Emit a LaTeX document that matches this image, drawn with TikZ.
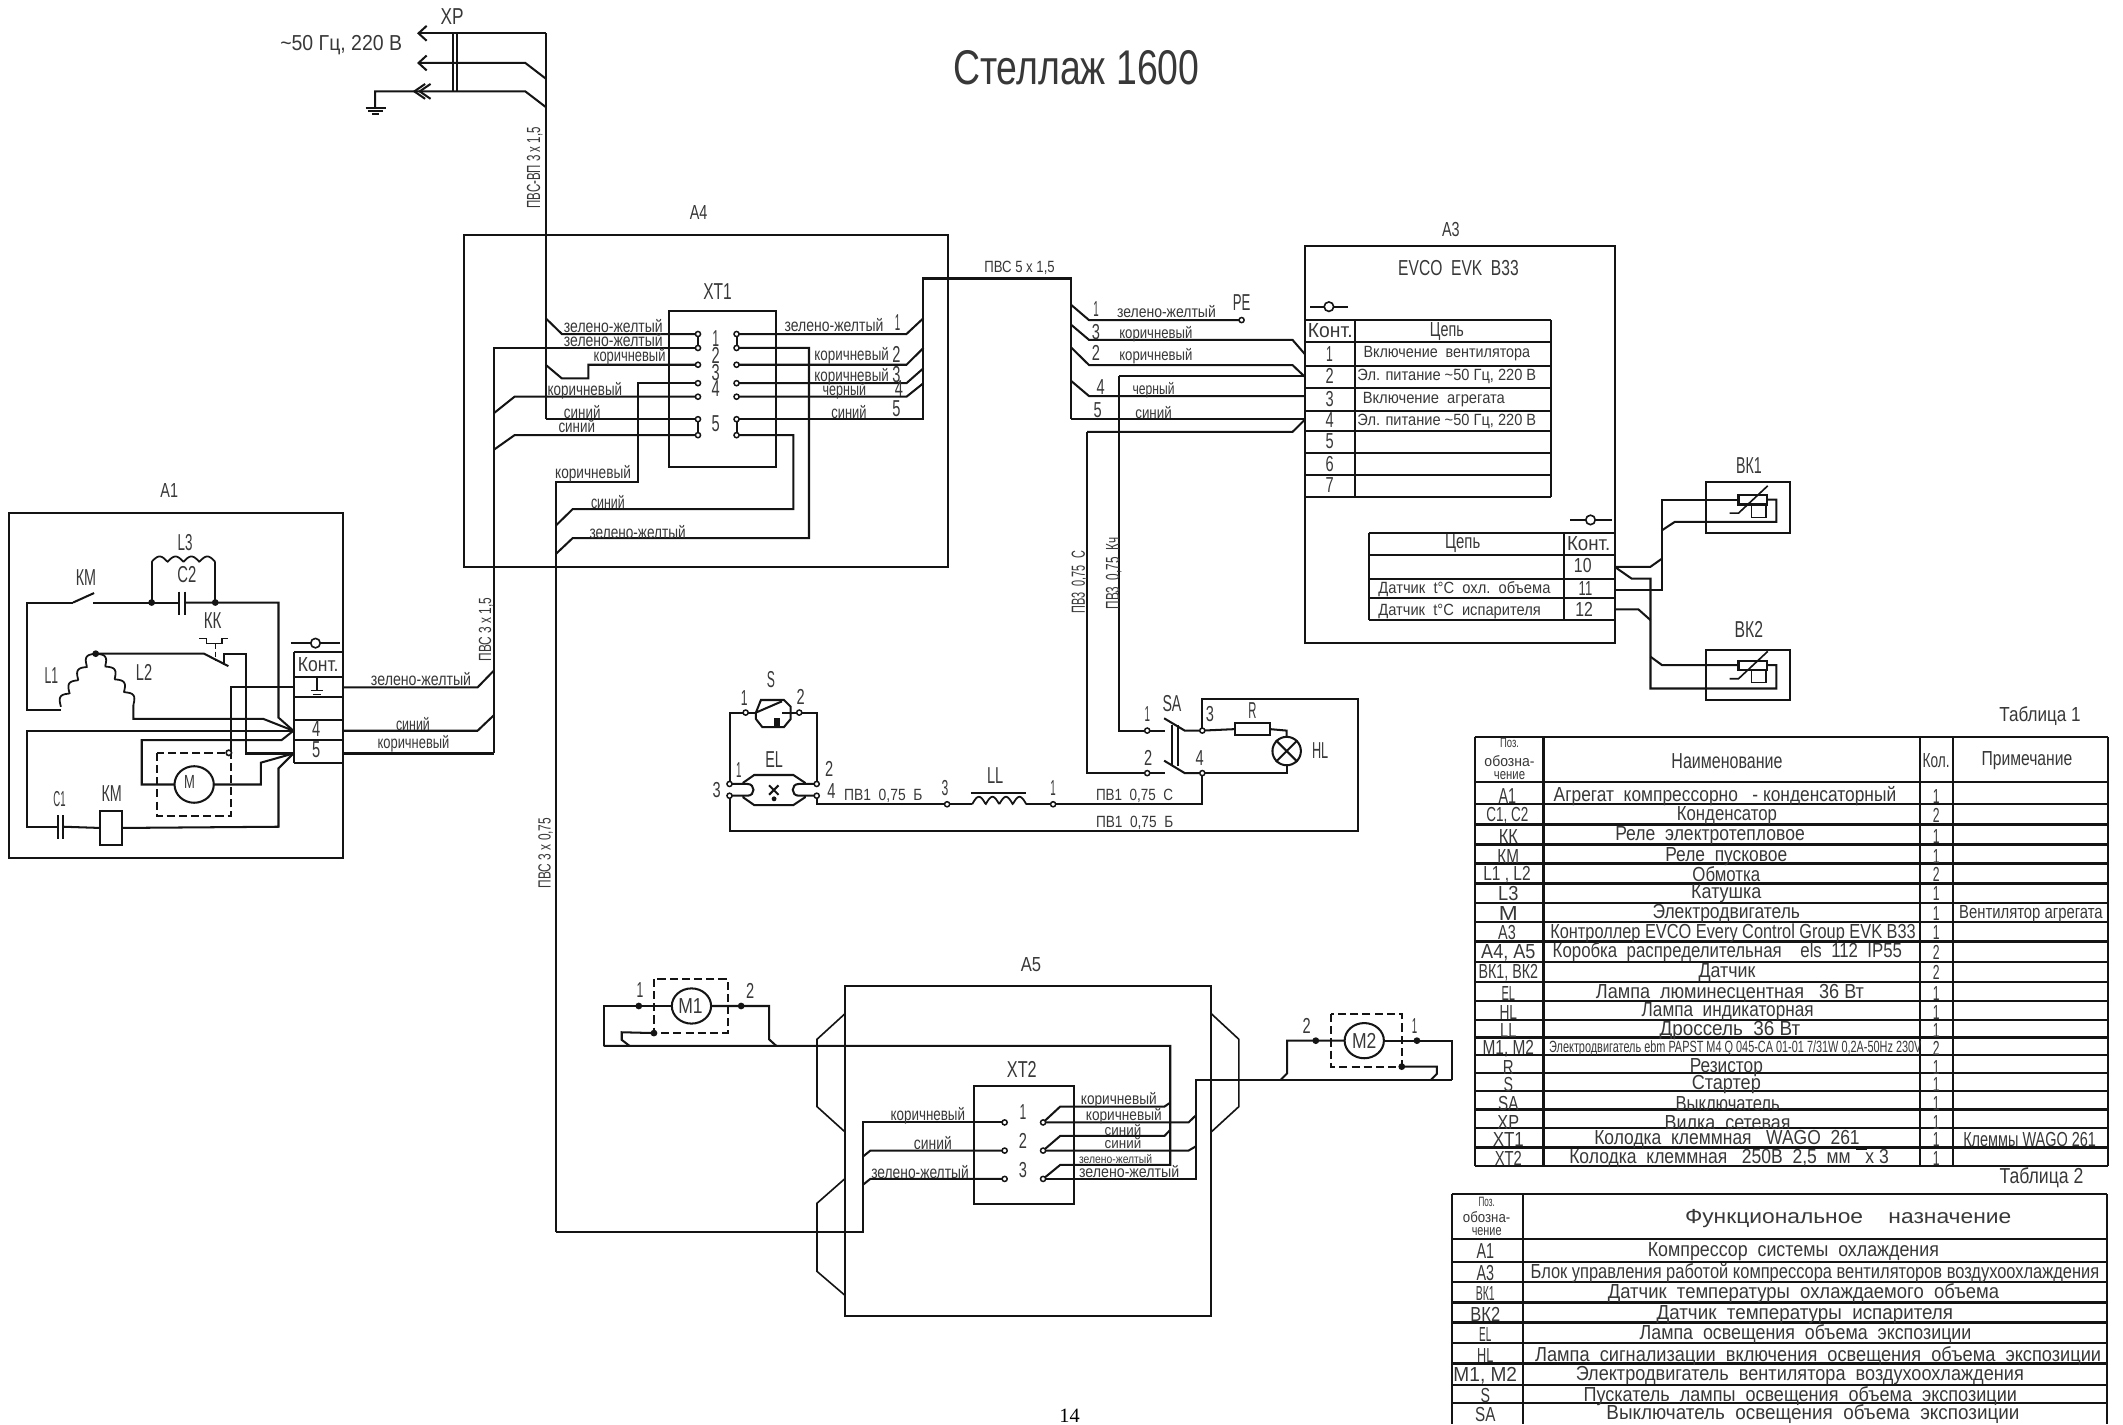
\documentclass[tikz,border=0pt]{standalone}
\usepackage{fontspec}
\setmainfont{Liberation Sans}
\newfontfamily\serf{Liberation Serif}
\usetikzlibrary{shapes.geometric,arrows.meta}
\definecolor{ink}{gray}{.08}
\definecolor{txt}{gray}{.22}
\newcounter{lbn}
\newsavebox\fitbox
\newcommand\fittext[2]{\sbox\fitbox{#2}\edef\fitw{\the\wd\fitbox}\pgfmathsetmacro\fitr{#1/\fitw}\scalebox{\fitr}[1]{\usebox\fitbox}}
\newcommand\lb[6][]{\stepcounter{lbn}\node[lab,#1] (lb\arabic{lbn}) at (#2,#3) {\fontsize{#5}{#5}\selectfont\fittext{#4}{#6}};}
\newcommand\bx[6][]{\node[boxn,#1,minimum width={(#5-#3)*1pt},minimum height={(#6-#4)*1pt}] (#2) at ({(#3+#5)/2},{(#4+#6)/2}) {};}
\newcommand\coilp[7]{\draw[wire,line width=1.3pt] plot[domain=0:1,samples=72] ({#1+\x*(#3-#1)+#6*abs(sin(#5*180*\x))},{#2+\x*(#4-#2)+#7*abs(sin(#5*180*\x))});}
\tikzset{
 lab/.style={inner sep=0pt,outer sep=0pt,text=txt,anchor=center},
 wire/.style={draw=ink,line width=1.5pt,line join=miter},
 thin wire/.style={draw=ink,line width=1.1pt},
 boxn/.style={draw=ink,line width=1.5pt,inner sep=0pt,outer sep=0pt,rectangle},
 tbl/.style={draw=ink,line width=1.6pt},
 tm/.style={circle,draw=ink,fill=white,line width=1.1pt,inner sep=0pt,minimum size=3.8pt},
 jd/.style={circle,fill=ink,inner sep=0pt,minimum size=5pt},
 mot/.style={ellipse,draw=ink,line width=1.5pt,fill=white,inner sep=0pt,outer sep=0pt},
 dashbox/.style={draw=ink,line width=1.3pt,dash pattern=on 6pt off 3pt},
 sock/.style={circle,draw=ink,fill=white,line width=1.2pt,inner sep=0pt,minimum size=7pt},
 barb/.style={-{Straight Barb[length=6pt,width=11pt,line width=1.5pt]}}
}
\begin{document}
\begin{tikzpicture}[x=1pt,y=-1pt]
\useasboundingbox (0,0) rectangle (1568,1052);
\fill[white] (0,0) rectangle (1568,1052);
% ---------- title
\lb{795}{50}{182}{36}{Стеллаж 1600}
\node[inner sep=0pt] (pagenum) at (790,1046) {\serf\fontsize{15}{15}\selectfont 14};
% ---------- boxes
\bx{A1}{7}{378.6}{253}{634}
\bx{A4}{343}{173.7}{700.5}{418.5}
\bx{XT1}{494}{230}{573}{344.6}
\bx{A3}{963.7}{181.7}{1192.5}{474.8}
\bx{A5}{624.4}{728}{894.3}{971.7}
\bx{XT2}{719.7}{802}{793.2}{889}
\bx{BK1}{1260}{355.8}{1322}{394}
\bx{BK2}{1260}{480}{1322}{517}
% ---------- XP
\coordinate (xpa) at (308,24.6);
\coordinate (xpb) at (308,46.5);
\coordinate (gnd) at (277,79);
\draw[wire,barb] (403,24.6) -- (xpa);
\draw[wire,barb] (403,58) -- (388,46.5) -- (xpb);
\draw[wire] (403,79) -- (388,67.5) -- (277,67.5) -- (gnd);
\draw[wire] (314,62) -- (306,67.5) -- (314,73) (318,62) -- (310,67.5) -- (318,73);
\draw[wire] (270,79.5) -- (285,79.5);
\draw[wire] (272,82) -- (283,82);
\draw[wire] (275,84.5) -- (280,84.5);
\draw[wire,line width=1.1pt] (334.5,24.6) -- (334.5,67.5) (337.5,24.6) -- (337.5,67.5);
\draw[wire] (403,24.6) -- (403,309.6);
\lb{334}{12}{17}{17}{ХР}
\lb{252}{33}{90}{16}{\textasciitilde50 Гц, 220 В}
\lb[rotate=90]{395}{124}{60}{14}{ПВС-ВП 3 х 1,5}
\lb{516}{157}{13}{15}{А4}
\lb{530}{215}{21}{17}{ХТ1}
% ---------- XT1 terminals
\foreach \n/\y in {1/246.7,2/257,3/269.4,4/283,5/293,6/309.6,7/321.4}{
 \coordinate (a\n) at (515.5,\y);
 \coordinate (b\n) at (544,\y);
}
\draw[wire] (a1) -- (a2) (b1) -- (b2) (a6) -- (a7) (b6) -- (b7);
\draw[wire] (403,235) -- (415,246.7) -- (a1);
\draw[wire] (365,556.5) -- (365,257) -- (a2);
\draw[wire] (403,269.4) -- (415,279.5) -- (434.5,279.5) -- (434.5,269.4) -- (a3);
\draw[wire] (410.7,910) -- (410.7,356) -- (471,356) -- (471,283) -- (a4);
\draw[wire] (365,305) -- (380,293) -- (a5);
\draw[wire] (403,309.6) -- (a6);
\draw[wire] (365,332) -- (380,321.4) -- (a7);
\draw[wire] (b1) -- (669.5,246.7) -- (682,235);
\draw[wire] (b2) -- (597.5,257) -- (597.5,397.4) -- (423,397.4) -- (410.7,409);
\draw[wire] (b3) -- (669.5,269.4) -- (682,257);
\draw[wire] (b4) -- (669.5,283) -- (682,272);
\draw[wire] (b5) -- (669.5,293) -- (682,283);
\draw[wire] (b6) -- (682,309.6) -- (682,205.7) -- (791.3,205.7) -- (791.3,309.5);
\draw[wire] (b7) -- (586,321.4) -- (586,376) -- (423,376) -- (410.7,388);
\foreach \n in {1,...,7}{
 \node[tm] (ta\n) at (a\n) {};
 \node[tm] (tb\n) at (b\n) {};
}
\lb{528.6}{250}{5}{17}{1}
\lb{528.6}{262.6}{6}{17}{2}
\lb{528.6}{275}{6}{17}{3}
\lb{528.6}{287}{6}{17}{4}
\lb{528.6}{312.6}{6}{17}{5}
\lb{453}{240.7}{73}{13}{зелено-желтый}
\lb{453}{251}{73}{13}{зелено-желтый}
\lb{465}{263.5}{53}{13}{коричневый}
\lb{432}{288.5}{55}{13}{коричневый}
\lb{430}{304.4}{27}{13}{синий}
\lb{426}{315}{27}{13}{синий}
\lb{438}{350}{56}{13}{коричневый}
\lb{449}{371}{25}{13}{синий}
\lb{471}{393}{71}{13}{зелено-желтый}
\lb{616}{240}{73}{13}{зелено-желтый}
\lb{629}{263}{55}{13}{коричневый}
\lb{629}{278}{55}{13}{коричневый}
\lb{623.6}{288.5}{32}{13}{черный}
\lb{627}{304.4}{26}{13}{синий}
\lb{663}{238}{4}{17}{1}
\lb{662}{262}{6}{17}{2}
\lb{662}{277}{6}{17}{3}
\lb{664}{287}{6}{17}{4}
\lb{662}{302}{6}{17}{5}
% ---------- A1
\lb{125}{362}{13}{15}{А1}
\coordinate (kA) at (216.7,539.7);
\coordinate (kB) at (216.7,556.5);
\node[mot,minimum width=29pt,minimum height=27pt] (M) at (143.4,579.4) {};
\node[jd] (j1) at (112,445) {};
\node[jd] (j2) at (159,445) {};
\node[jd] (j3) at (70.7,482.8) {};
\draw[wire] (54,445) -- (19.7,445) -- (19.7,524.5) -- (45,524.5);
\draw[wire] (54,445) -- (69.5,438);
\draw[wire] (69,445) -- (j1.center) -- (132,445);
\draw[wire] (136.7,445) -- (j2.center) -- (205.7,445) -- (205.7,530) -- (kA);
\draw[wire] (j1.center) -- (112,415);
\draw[wire] (j2.center) -- (159,415);
\coilp{112}{415}{159}{415}{4}{0}{-4}
\draw[wire] (132,437) -- (132,454) (136.7,437) -- (136.7,454);
\coilp{45}{522}{70.7}{482.8}{4}{-3.5}{-2.5}
\coilp{70.7}{482.8}{98.5}{520.7}{4}{3.5}{-2.5}
\draw[wire] (98.5,520.7) -- (98.5,531) -- (194.6,531) -- (kA);
\draw[wire] (j3.center) -- (150.7,482.8) -- (168.7,492);
\draw[wire] (165.5,491) -- (165.5,483) -- (181.5,483) -- (181.5,556.5) -- (kB);
\draw[wire,line width=1.1pt] (147,471.5) -- (152.7,471.5) -- (152.7,475.2) -- (163.8,475.2) -- (163.8,471.5) -- (168.7,471.5);
\draw[wire,line width=1.1pt,dash pattern=on 4pt off 2pt] (159,475.2) -- (159,487.5);
\draw[dashbox] (115.8,556) rectangle (170.7,602.7);
\draw[wire] (217,507.7) -- (170.4,507.7) -- (170.4,556.5);
\node[sock,minimum size=4pt] (mg) at (169,556) {};
\draw[wire] (kA) -- (19.7,539.7) -- (19.7,610.6) -- (42.6,610.6);
\draw[wire] (42.6,602) -- (42.6,620) (46.8,602) -- (46.8,620);
\node[boxn,minimum width=16pt,minimum height=25pt] (KMc) at (82,611.5) {};
\draw[wire] (46.8,610.6) -- (KMc.west);
\draw[wire] (KMc.east) -- (205.7,610.6) -- (205.7,567.5) -- (kB);
\draw[wire] (kA) -- (208,546.6) -- (104.7,546.6) -- (104.7,579.4) -- (M.west);
\draw[wire] (M.east) -- (192.6,579.4) -- (192.6,563.3) -- (kB);
\draw[wire] (217.2,481.3) -- (252.7,481.3) (217.2,499.8) -- (252.7,499.8) (217.2,514.6) -- (252.7,514.6) (217.2,531.8) -- (252.7,531.8) (217.2,546.6) -- (252.7,546.6) (217.2,563.3) -- (252.7,563.3) (217.2,481.3) -- (217.2,563.3);
\draw[wire,line width=1.2pt] (214.8,475) -- (251,475);
\node[sock] (s1) at (233,475) {};
\draw[wire,line width=1.1pt] (234,501) -- (234,510) (229.5,510) -- (238.5,510) (231,513) -- (237,513);
\draw[wire] (252.7,507.7) -- (352.7,507.7) -- (365,495);
\draw[wire] (252.7,539.7) -- (352.7,539.7) -- (365,528);
\draw[wire] (252.7,556.5) -- (365,556.5);
\lb{63.5}{426.4}{15}{17}{КМ}
\lb{136.7}{400.6}{11}{17}{L3}
\lb{138}{424.7}{14}{17}{С2}
\lb{157}{458}{13}{17}{КК}
\lb{38}{499}{10}{17}{L1}
\lb{106.4}{497}{12}{17}{L2}
\lb{44}{590.5}{9}{16}{С1}
\lb{82.5}{586}{15}{17}{КМ}
\lb{140}{577.4}{8}{14}{М}
\lb{235}{490.5}{30}{15}{Конт.}
\lb{233.5}{538}{6}{17}{4}
\lb{233.5}{554}{6}{17}{5}
\lb{311}{501.5}{74}{13}{зелено-желтый}
\lb{305}{535}{25}{13}{синий}
\lb{305.4}{549}{53}{13}{коричневый}
\lb[rotate=90]{359}{465}{47}{13}{ПВС 3 х 1,5}
\lb[rotate=90]{403}{630}{52}{13}{ПВС 3 х 0,75}
% ---------- S, EL, LL, SA
\coordinate (s1t) at (550.7,526.3);
\coordinate (s2t) at (590.3,526.3);
\coordinate (e1) at (538.8,579);
\coordinate (e3) at (538.8,587.7);
\coordinate (e2) at (603.2,579);
\coordinate (e4) at (603.2,587.7);
\coordinate (ll3) at (699.5,594);
\coordinate (ll1) at (777.8,594);
\coordinate (sa1) at (847.3,539.6);
\coordinate (sa2) at (847.3,571);
\coordinate (sa3) at (888,539.6);
\coordinate (sa4) at (888,571);
\draw[wire] (e1) -- (538.8,526.3) -- (s1t) -- (558.3,526.3);
\draw[wire] (e2) -- (603.2,526.3) -- (s2t) -- (577.5,526.3);
\draw[wire] (558.3,526.3) -- (562,517) -- (579,517) -- (584,522) -- (584,531) -- (579,537) -- (563,537) -- (558.3,531) -- cycle;
\draw[wire] (558.3,526.3) -- (577.5,518);
\fill[ink] (571.3,530) rectangle (576,536);
\draw[wire] (549,578) -- (557,572.4) -- (586,572.4) -- (594.4,578) -- (594.4,589) -- (586,594.6) -- (557,594.6) -- (549,589) -- cycle;
\draw[fill=white,wire] (e1) -- (552,579) .. controls (558,579) and (558,587.7) .. (552,587.7) -- (e3);
\draw[fill=white,wire] (e2) -- (590,579) .. controls (584,579) and (584,587.7) .. (590,587.7) -- (e4);
\draw[wire] (568,580) -- (575,587) (575,580) -- (568,587);
\fill[ink] (571.7,590) circle (1.8);
\draw[wire] (e3) -- (538.8,613.8) -- (1003,613.8) -- (1003,516.5) -- (888,516.5) -- (sa3);
\draw[wire] (e4) -- (603.2,594) -- (ll3) -- (718,594);
\coilp{718}{594}{758}{594}{4}{0}{-5.5}
\draw[wire] (758,594) -- (ll1) -- (888,594) -- (sa4);
\draw[wire] (717,585.7) -- (758,585.7);
\draw[wire] (826.8,277.8) -- (826.8,539.6) -- (sa1) -- (860.5,539.6);
\draw[wire] (803,319) -- (803,571) -- (sa2) -- (860.5,571);
\draw[wire] (859.8,530.5) -- (875,539.6) -- (sa3);
\draw[wire] (859.8,561.8) -- (875,571) -- (sa4);
\draw[wire] (865.6,535.4) -- (865.6,566) (870,535.4) -- (870,566);
\node[boxn,minimum width=25.4pt,minimum height=8.6pt] (Rn) at (925.1,538.5) {};
\node[circle,draw=ink,line width=1.5pt,inner sep=0pt,minimum size=21pt] (HLn) at (950.3,554.7) {};
\draw[wire] (HLn.north west) -- (HLn.south east) (HLn.north east) -- (HLn.south west);
\draw[wire] (sa3) -- (Rn.west);
\draw[wire] (Rn.east) -- (950.3,539.6) -- (HLn.north);
\draw[wire] (HLn.south) -- (950.3,571) -- (sa4);
\foreach \c in {s1t,s2t,e1,e2,e3,e4,ll3,ll1,sa1,sa2,sa3,sa4}{\node[tm] (n\c) at (\c) {};}
\lb{569.3}{501.7}{6}{17}{S}
\lb{549.6}{515.7}{5}{16}{1}
\lb{591.4}{514.5}{6}{16}{2}
\lb{571.7}{560.8}{13}{17}{EL}
\lb{545.6}{568.7}{4}{16}{1}
\lb{612.4}{568}{6}{16}{2}
\lb{529.3}{583.5}{6}{16}{3}
\lb{614}{584}{6}{16}{4}
\lb{652.4}{588}{58}{12}{ПВ1\ \ 0,75\ \ Б}
\lb{698}{582}{5}{16}{3}
\lb{735}{573}{12}{17}{LL}
\lb{777.8}{582}{4}{16}{1}
\lb{838}{588}{57}{12}{ПВ1\ \ 0,75\ \ С}
\lb{838}{608}{57}{12}{ПВ1\ \ 0,75\ \ Б}
\lb{865.6}{519.4}{14}{17}{SA}
\lb{847.3}{527.3}{4}{16}{1}
\lb{848}{560}{6}{16}{2}
\lb{893.7}{527.3}{6}{16}{3}
\lb{886}{560}{6}{16}{4}
\lb{925}{524.8}{6}{17}{R}
\lb{975}{554.4}{12}{17}{HL}
\lb[rotate=90]{797.3}{430}{46}{14}{ПВ3\ \ 0,75\ \ С}
\lb[rotate=90]{822.5}{423.6}{53}{14}{ПВ3\ \ 0,75\ \ Кч}
% ---------- A3
\lb{1071.6}{169.4}{13}{15}{А3}
\lb{1077.2}{198.2}{89}{16}{EVCO\ \ EVK\ \ B33}
\draw[wire,line width=1.3pt] (967.6,226.5) -- (995.8,226.5);
\node[sock] (s2) at (981.5,226.5) {};
\foreach \y in {236.4,252.9,270.1,286.4,303.4,318.2,334.4,351,367.4}{\draw[wire] (963.7,\y) -- (1145.7,\y);}
\draw[wire] (1001,236.4) -- (1001,367.4) (1145.7,236.4) -- (1145.7,367.4);
\coordinate (pe) at (917,236.4);
\draw[wire] (791.3,225.3) -- (804.3,236.4) -- (pe);
\node[tm] (pet) at (pe) {};
\draw[wire] (791.3,240) -- (804.3,251) -- (954.6,251) -- (963.7,261.5);
\draw[wire] (791.3,256.8) -- (804.3,269.6) -- (954.6,269.6) -- (963.7,278.3);
\draw[wire] (826.8,277.8) -- (963.7,277.8);
\draw[wire] (791.3,281.5) -- (804.3,292.5) -- (963.7,292.5);
\draw[wire] (791.3,309.5) -- (963.7,309.5);
\draw[wire] (803,319) -- (954.6,319) -- (963.7,310);
\lb{753}{198}{52}{12}{ПВС 5 х 1,5}
\lb{809.5}{228.5}{4}{16}{1}
\lb{861.5}{230}{73}{12}{зелено-желтый}
\lb{917}{223.6}{13}{17}{РЕ}
\lb{809.5}{245}{6}{16}{3}
\lb{853.7}{246.7}{54}{12}{коричневый}
\lb{809.5}{261}{6}{16}{2}
\lb{853.7}{263}{54}{12}{коричневый}
\lb{813}{285.6}{6}{16}{4}
\lb{852}{288}{31}{12}{черный}
\lb{810.8}{302.9}{6}{16}{5}
\lb{852}{305}{27}{12}{синий}
\lb{982.5}{244.5}{33}{15}{Конт.}
\lb{1068.6}{244.5}{25}{15}{Цепь}
\lb{982}{261.5}{5}{16}{1}
\lb{982}{278}{6}{16}{2}
\lb{982}{294.5}{6}{16}{3}
\lb{982}{310.5}{6}{16}{4}
\lb{982}{326}{6}{16}{5}
\lb{982}{342.5}{6}{16}{6}
\lb{982}{358.5}{6}{16}{7}
\lb{1068.6}{261.5}{123}{12}{Включение\ \ вентилятора}
\lb{1068.6}{277.8}{132}{12}{Эл. питание \textasciitilde50 Гц, 220 В}
\lb{1059}{294.8}{105}{12}{Включение\ \ агрегата}
\lb{1068.6}{311}{132}{12}{Эл. питание \textasciitilde50 Гц, 220 В}
\draw[wire,line width=1.2pt] (1159.6,384) -- (1190.8,384);
\node[sock] (s3) at (1174.7,384) {};
\foreach \y in {394,410,427.3,442,458}{\draw[wire] (1011,\y) -- (1192.5,\y);}
\draw[wire] (1011,394) -- (1011,458) (1155.2,394) -- (1155.2,458);
\lb{1080.3}{401.4}{26}{15}{Цепь}
\lb{1173.4}{401.4}{32}{15}{Конт.}
\lb{1169}{417.4}{13}{15}{10}
\lb{1171}{434.7}{10}{15}{11}
\lb{1170}{450}{13}{15}{12}
\lb{1081.6}{435}{127}{12}{Датчик\ \ t°C\ \ охл.\ \ объема}
\lb{1078}{452}{120}{12}{Датчик\ \ t°C\ \ испарителя}
% ---------- BK
\draw[wire] (1192.5,435.4) -- (1227.6,435.4) -- (1227.6,369) -- (1284,369);
\draw[wire] (1304.7,369) -- (1312,369) -- (1312,385.4) -- (1237,385.4) -- (1227.6,391.6);
\draw[wire] (1192.5,418.6) -- (1219,418.6) -- (1227.6,412.5);
\draw[wire] (1192.5,418.6) -- (1205,427.3) -- (1219,427.3) -- (1219,508.5) -- (1312,508.5) -- (1312,491.3) -- (1304.7,491.3);
\draw[wire] (1192.5,450) -- (1210,450) -- (1219,458);
\draw[wire] (1219,485) -- (1227.6,491.3) -- (1284,491.3);
\foreach \s in {0,122.3}{
 \begin{scope}[shift={(0,\s)}]
 \draw[wire] (1284,365.7) rectangle (1304.7,372.6);
 \draw[wire,line width=1.2pt] (1277.4,379) -- (1284,379) -- (1305.6,358.8);
 \draw[thin wire,line width=.8pt] (1293.4,372.6) rectangle (1304.3,382);
 \end{scope}
}
\lb{1291.7}{343.5}{19}{17}{ВК1}
\lb{1291.7}{464.7}{21}{17}{ВК2}
% ---------- A5 and XT2
\lb{761.4}{712.7}{15}{15}{А5}
\lb{754.7}{790}{22}{17}{ХТ2}
\draw[wire,line width=1.2pt] (624.4,748.4) -- (603.4,767.6) -- (603.4,817.3) -- (624.4,836.3);
\draw[wire,line width=1.2pt] (624.4,870.2) -- (603.4,888.7) -- (603.4,939) -- (624.4,957);
\draw[wire,line width=1.2pt] (894.3,748.4) -- (915,767.6) -- (915,817.3) -- (894.3,836.3);
\foreach \n/\y in {1/829,2/849.8,3/870.7}{
 \coordinate (c\n) at (742,\y);
 \coordinate (d\n) at (770.4,\y);
}
\draw[wire] (410.7,910) -- (637.4,910) -- (637.4,829) -- (c1);
\draw[wire] (637.4,854.2) -- (642.8,849.8) -- (c2);
\draw[wire] (637.4,875) -- (642.8,870.7) -- (c3);
\draw[wire] (d1) -- (877.8,829) -- (883,824);
\draw[wire] (d2) -- (877.8,849.8) -- (883,846.8);
\draw[wire] (d3) -- (883,870.7) -- (883,797.6) -- (1072.5,797.6);
\draw[wire] (d1) -- (783,817.3) -- (860,817.3) -- (864.3,814.4);
\draw[wire] (d2) -- (783,839) -- (860,839) -- (864.3,834.5);
\draw[wire] (d3) -- (783,860.4) -- (864.3,860.4) -- (864.3,772.5) -- (445.8,772.5);
\foreach \n in {1,2,3}{
 \node[tm] (tc\n) at (c\n) {};
 \node[tm] (td\n) at (d\n) {};
}
\node[mot,minimum width=29pt,minimum height=26pt] (M1) at (510.7,743) {};
\node[mot,minimum width=29pt,minimum height=26pt] (M2) at (1007.6,768.6) {};
\node[jd] (m1a) at (471.8,743) {};
\node[jd] (m1b) at (547.4,743) {};
\node[jd] (m1c) at (483,763) {};
\node[jd] (m2a) at (971.8,768.6) {};
\node[jd] (m2b) at (1046.5,768.6) {};
\node[jd] (m2c) at (1035.3,787.8) {};
\draw[wire] (445.8,772.5) -- (445.8,743) -- (m1a.center) -- (M1.west);
\draw[wire] (M1.east) -- (m1b.center) -- (568,743) -- (568,767.6) -- (573.4,772.5);
\draw[wire] (m1c.center) -- (459.2,762.4) -- (459.2,768) -- (465,772.5);
\draw[dashbox] (483,723) rectangle (537.6,762.7);
\draw[wire] (945.8,797.6) -- (950.7,792.7) -- (950.7,768.6) -- (m2a.center) -- (M2.west);
\draw[wire] (M2.east) -- (m2b.center) -- (1072.5,768.6) -- (1072.5,797.6);
\draw[wire] (m2c.center) -- (1061.3,787.8) -- (1061.3,793) -- (1056.8,797.6);
\draw[dashbox] (983,749) rectangle (1035.3,787.8);
\lb{510}{743}{18}{16}{М1}
\lb{1007.6}{768.6}{18}{16}{М2}
\lb{472.7}{731}{5}{16}{1}
\lb{554}{732}{6}{16}{2}
\lb{965}{757.7}{6}{16}{2}
\lb{1044.7}{757.7}{4}{16}{1}
\lb{755.6}{821}{5}{16}{1}
\lb{755.6}{842.4}{6}{16}{2}
\lb{755.6}{864}{6}{16}{3}
\lb{685.3}{824}{55}{13}{коричневый}
\lb{689}{844.4}{28}{13}{синий}
\lb{679.5}{866}{72}{13}{зелено-желтый}
\lb{826.3}{812.4}{56}{12}{коричневый}
\lb{830}{824}{56}{12}{коричневый}
\lb{829.4}{834.8}{27}{11}{синий}
\lb{829.4}{844.4}{27}{11}{синий}
\lb{824}{856}{54}{9}{зелено-желтый}
\lb{834}{865.6}{74}{12}{зелено-желтый}
% ---------- Table 1
\lb{1506.7}{529}{60}{15}{Таблица 1}
\foreach \y in {544.6,577.3,593.8,608.9,623.7,637.7,652.5,666.8,680.8,695.3,710.3,725,739.2,753.4,766.3,779.3,792.4,806,819.5,833,847.5,861}{\draw[tbl] (1089.2,\y) -- (1557,\y);}
\foreach \x in {1089.2,1140,1418,1442.4,1557}{\draw[tbl] (\x,544.6) -- (\x,861);}
\fill[ink] (1371,846.5) rectangle (1379,849);
\lb{1114.9}{549}{14}{10}{Поз.}
\lb{1114.9}{561.8}{37}{11}{обозна-}
\lb{1114.9}{572.5}{23}{11}{чение}
\lb{1275.5}{561.8}{82}{16}{Наименование}
\lb{1430}{561.8}{20}{15}{Кол.}
\lb{1497}{561.8}{67}{15}{Примечание}
\begin{scope}[shift={(0,1.5)}]
\lb{1113.3}{586.5}{13}{16}{А1}
\lb{1274}{586.5}{253}{15}{Агрегат\ \ компрессорно\ \ \ - конденсаторный}
\lb{1113.3}{601}{31}{15}{С1, С2}
\lb{1275.5}{601}{74}{15}{Конденсатор}
\lb{1114}{616}{14}{15}{КК}
\lb{1263}{616}{140}{15}{Реле\ \ электротепловое}
\lb{1114}{631}{16}{15}{КМ}
\lb{1275}{631}{90}{15}{Реле\ \ пусковое}
\lb{1113}{644.3}{35}{15}{L1 , L2}
\lb{1275}{644.3}{50}{15}{Обмотка}
\lb{1114}{658.6}{15}{15}{L3}
\lb{1275}{658.6}{52}{15}{Катушка}
\lb{1114}{673.4}{14}{15}{М}
\lb{1275}{673.4}{109}{15}{Электродвигатель}
\lb{1500}{673.4}{106}{14}{Вентилятор агрегата}
\lb{1113}{687.4}{13}{15}{А3}
\lb{1280}{687.4}{270}{15}{Контроллер EVCO Every Control Group EVK B33}
\lb{1114}{702}{40}{15}{А4, А5}
\lb{1275.8}{702}{258}{15}{Коробка\ \ распределительная\ \ \ \ els\ \ 112\ \ IP55}
\lb{1114}{717}{44}{15}{ВК1, ВК2}
\lb{1275.5}{717}{42}{15}{Датчик}
\lb{1114}{732.5}{10}{15}{EL}
\lb{1277.7}{732.5}{198}{15}{Лампа\ \ люминесцентная\ \ \ 36 Вт}
\lb{1114}{746}{13}{15}{HL}
\lb{1276}{746}{127}{15}{Лампа\ \ индикаторная}
\lb{1114}{759.6}{12}{15}{LL}
\lb{1277.7}{759.6}{104}{15}{Дроссель\ \ 36 Вт}
\lb{1114}{773}{38}{15}{М1, М2}
\lb{1281.7}{773}{275}{12}{Электродвигатель ebm PAPST M4 Q 045-CA 01-01 7/31W 0,2A-50Hz 230V}
\lb{1114}{786.7}{8}{15}{R}
\lb{1275}{786.7}{54}{15}{Резистор}
\lb{1114}{799.8}{7}{15}{S}
\lb{1275}{799.8}{51}{15}{Стартер}
\lb{1114}{813.8}{15}{15}{SA}
\lb{1276}{813.8}{77}{15}{Выключатель}
\lb{1114}{827.3}{16}{15}{ХР}
\lb{1276}{827.3}{93}{15}{Вилка\ \ сетевая}
\lb{1114}{840}{23}{15}{ХТ1}
\lb{1275.5}{840}{196}{15}{Колодка\ \ клеммная\ \ \ WAGO\ \ 261}
\lb{1499}{840}{98}{15}{Клеммы WAGO 261}
\lb{1114}{854.4}{20}{15}{ХТ2}
\lb{1277}{854.4}{236}{15}{Колодка\ \ клеммная\ \ \ 250В\ \ 2,5\ \ мм\ \ \ х\ 3}
\foreach \y/\q in {586.5/1,601/2,616/1,631/1,644.3/2,658.6/1,673.4/1,687.4/1,702/2,717/2,732.5/1,746/1,759.6/1,773/2,786.7/1,799.8/1,813.8/1,827.3/1,840/1,854.4/1}{
 \node[lab] (q\y) at (1430,\y) {\fontsize{15}{15}\selectfont\fittext{5}{\q}};
}
\end{scope}
% ---------- Table 2
\lb{1507.8}{870}{62}{16}{Таблица 2}
\foreach \y in {882,915.3,931.8,946.6,962,976.7,991.7,1007,1023,1036.5}{\draw[tbl] (1072.5,\y) -- (1556.4,\y);}
\foreach \x in {1072.5,1124.6,1556.4}{\draw[tbl] (\x,882) -- (\x,1052);}
\lb{1098}{887.5}{12}{10}{Поз.}
\lb{1098}{899}{35}{11}{обозна-}
\lb{1098}{909.7}{22}{11}{чение}
\lb{1365}{900}{241}{15}{Функциональное\ \ \ \ назначение}
\begin{scope}[shift={(0,1.2)}]
\lb{1097}{923}{13}{16}{А1}
\lb{1324.5}{923}{215}{15}{Компрессор\ \ системы\ \ охлаждения}
\lb{1097}{938.7}{13}{16}{А3}
\lb{1340.5}{938.7}{420}{15}{Блок управления работой компрессора вентиляторов воздухоохлаждения}
\lb{1097}{954}{14}{15}{ВК1}
\lb{1332}{954}{289}{15}{Датчик\ \ температуры\ \ охлаждаемого\ \ объема}
\lb{1097}{969.5}{22}{15}{ВК2}
\lb{1333}{969.5}{219}{15}{Датчик\ \ температуры\ \ испарителя}
\lb{1097}{984.3}{9}{15}{EL}
\lb{1333.5}{984.3}{245}{15}{Лампа\ \ освещения\ \ объема\ \ экспозиции}
\lb{1097}{1000}{12}{15}{HL}
\lb{1342.8}{1000}{418}{15}{Лампа\ \ сигнализации\ \ включения\ \ освещения\ \ объема\ \ экспозиции}
\lb{1097}{1015}{47}{15}{М1, М2}
\lb{1329.3}{1015}{331}{15}{Электродвигатель\ \ вентилятора\ \ воздухоохлаждения}
\lb{1097}{1029.6}{7}{15}{S}
\lb{1329.6}{1029.6}{320}{15}{Пускатель\ \ лампы\ \ освещения\ \ объема\ \ экспозиции}
\lb{1097}{1043.4}{15}{15}{SA}
\lb{1339}{1043.4}{305}{15}{Выключатель\ \ освещения\ \ объема\ \ экспозиции}
\end{scope}
\end{tikzpicture}
\end{document}
